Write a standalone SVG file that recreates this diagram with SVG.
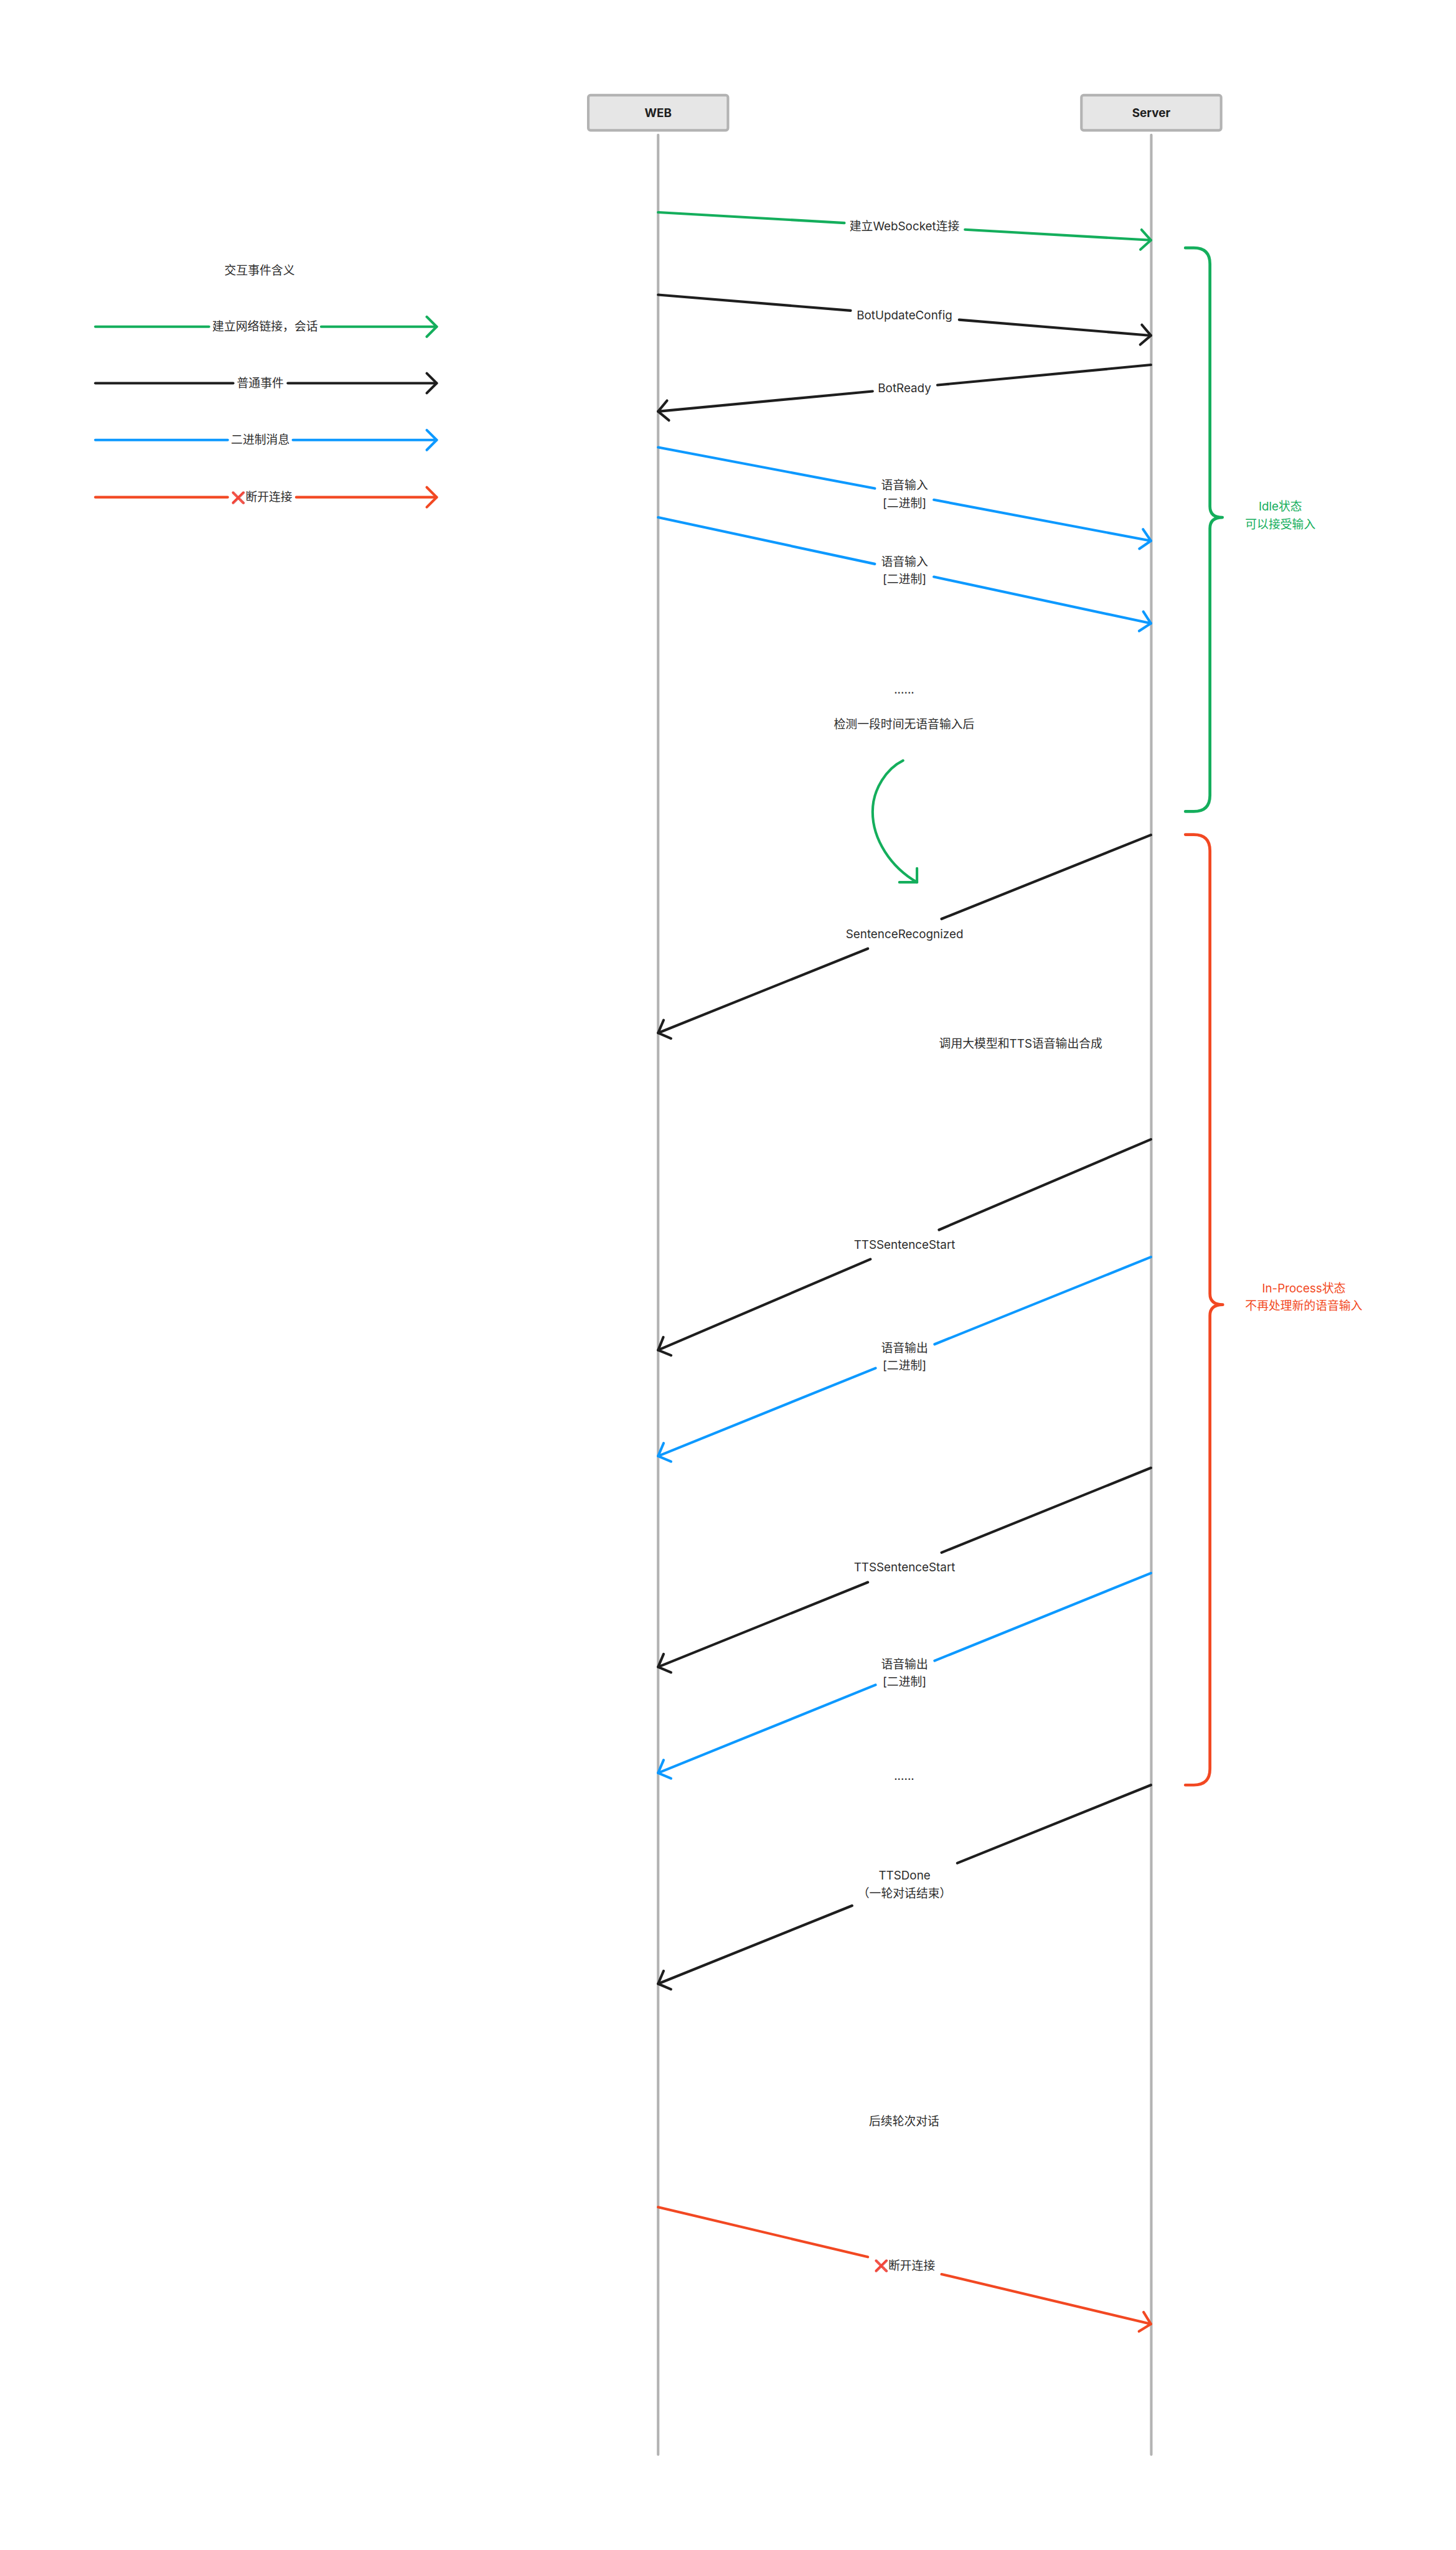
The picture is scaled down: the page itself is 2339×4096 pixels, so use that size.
<svg xmlns="http://www.w3.org/2000/svg" width="2339" height="4096" viewBox="0 0 2339 4096">
<style>
text{font-family:Inter,"Noto Sans","Noto Sans CJK SC",sans-serif;font-size:32px;fill:#2c2c2c;text-anchor:middle;dominant-baseline:central}
.node rect{fill:#e6e6e6;stroke:#b3b3b3;stroke-width:7}
.node text{font-weight:700;fill:#1e1e1e}
.life{stroke:#b3b3b3;stroke-width:7;stroke-linecap:round;fill:none}
.c{fill:none;stroke-width:7;stroke-linecap:round;stroke-linejoin:round}
.g{stroke:#14ae5c}.k{stroke:#1e1e1e}.b{stroke:#0d99ff}.r{stroke:#f24822}
.brace{fill:none;stroke-width:8;stroke-linecap:round;stroke-linejoin:round}
</style>
<defs>
<marker id="ag" markerUnits="userSpaceOnUse" markerWidth="80" markerHeight="80" viewBox="-40 -40 80 80" refX="0" refY="0" orient="auto" overflow="visible"><path d="M-27,-27 L0,0 L-27,27" fill="none" stroke="#14ae5c" stroke-width="7" stroke-linecap="round" stroke-linejoin="round"/></marker>
<marker id="ak" markerUnits="userSpaceOnUse" markerWidth="80" markerHeight="80" viewBox="-40 -40 80 80" refX="0" refY="0" orient="auto" overflow="visible"><path d="M-27,-27 L0,0 L-27,27" fill="none" stroke="#1e1e1e" stroke-width="7" stroke-linecap="round" stroke-linejoin="round"/></marker>
<marker id="ab" markerUnits="userSpaceOnUse" markerWidth="80" markerHeight="80" viewBox="-40 -40 80 80" refX="0" refY="0" orient="auto" overflow="visible"><path d="M-27,-27 L0,0 L-27,27" fill="none" stroke="#0d99ff" stroke-width="7" stroke-linecap="round" stroke-linejoin="round"/></marker>
<marker id="ar" markerUnits="userSpaceOnUse" markerWidth="80" markerHeight="80" viewBox="-40 -40 80 80" refX="0" refY="0" orient="auto" overflow="visible"><path d="M-27,-27 L0,0 L-27,27" fill="none" stroke="#f24822" stroke-width="7" stroke-linecap="round" stroke-linejoin="round"/></marker>
</defs>
<rect x="0" y="0" width="2339" height="4096" fill="#ffffff"/>
<g transform="scale(0.589)">
  <!-- legend -->
  <g id="legend">
    <text x="708" y="737">交互事件含义</text>
    <path class="c g" d="M260,891 L570,891"/>
    <path class="c g" d="M876,891 L1191,891" marker-end="url(#ag)"/>
    <text x="723" y="891">建立网络链接，会话</text>
    <path class="c k" d="M260,1045 L636,1045"/>
    <path class="c k" d="M785,1045 L1191,1045" marker-end="url(#ak)"/>
    <text x="710" y="1045">普通事件</text>
    <path class="c b" d="M260,1200 L621,1200"/>
    <path class="c b" d="M799,1200 L1191,1200" marker-end="url(#ab)"/>
    <text x="710" y="1200">二进制消息</text>
    <path class="c r" d="M260,1356 L621,1356"/>
    <path class="c r" d="M808,1356 L1191,1356" marker-end="url(#ar)"/>
    <text x="714" y="1356"><tspan fill="#e5393b">❌</tspan>断开连接</text>
  </g>

  <!-- nodes -->
  <g id="node-web" class="node">
    <rect x="1604.5" y="259.5" width="381" height="96" rx="6"/>
    <text x="1795" y="308">WEB</text>
    <path class="life" d="M1795,368 L1795,6694"/>
  </g>
  <g id="node-server" class="node">
    <rect x="2949.5" y="259.5" width="381" height="96" rx="6"/>
    <text x="3140" y="308">Server</text>
    <path class="life" d="M3140,368 L3140,6694"/>
  </g>

  <!-- connectors -->
  <g id="connectors">
    <g id="m1">
      <path class="c g" d="M1795,579 L2303,608"/>
      <path class="c g" d="M2632,626 L3139,655" marker-end="url(#ag)"/>
      <text x="2467" y="617">建立WebSocket连接</text>
    </g>
    <g id="m2">
      <path class="c k" d="M1795,804 L2320,847"/>
      <path class="c k" d="M2616,872 L3139,915" marker-end="url(#ak)"/>
      <text x="2467" y="860">BotUpdateConfig</text>
    </g>
    <g id="m3">
      <path class="c k" d="M3139,995 L2557,1050"/>
      <path class="c k" d="M2380,1067 L1795,1122" marker-end="url(#ak)"/>
      <text x="2467" y="1059">BotReady</text>
    </g>
    <g id="m4">
      <path class="c b" d="M1795,1220 L2386,1332"/>
      <path class="c b" d="M2547,1363 L3139,1475" marker-end="url(#ab)"/>
      <text x="2467" y="1324">语音输入</text>
      <text x="2467" y="1372">[二进制]</text>
    </g>
    <g id="m5">
      <path class="c b" d="M1795,1411 L2386,1538"/>
      <path class="c b" d="M2547,1573 L3139,1700" marker-end="url(#ab)"/>
      <text x="2467" y="1532">语音输入</text>
      <text x="2467" y="1580">[二进制]</text>
    </g>
    <g id="m6">
      <path class="c k" d="M3139,2277 L2568,2506"/>
      <path class="c k" d="M2367,2587 L1795,2817" marker-end="url(#ak)"/>
      <text x="2467" y="2547">SentenceRecognized</text>
    </g>
    <g id="m7">
      <path class="c k" d="M3139,3107 L2561,3354"/>
      <path class="c k" d="M2374,3434 L1795,3682" marker-end="url(#ak)"/>
      <text x="2467" y="3395">TTSSentenceStart</text>
    </g>
    <g id="m8">
      <path class="c b" d="M3139,3428 L2549,3666"/>
      <path class="c b" d="M2388,3731 L1795,3971" marker-end="url(#ab)"/>
      <text x="2467" y="3676">语音输出</text>
      <text x="2467" y="3724">[二进制]</text>
    </g>
    <g id="m9">
      <path class="c k" d="M3139,4003 L2568,4234"/>
      <path class="c k" d="M2367,4315 L1795,4546" marker-end="url(#ak)"/>
      <text x="2467" y="4275">TTSSentenceStart</text>
    </g>
    <g id="m10">
      <path class="c b" d="M3139,4290 L2549,4529"/>
      <path class="c b" d="M2388,4595 L1795,4835" marker-end="url(#ab)"/>
      <text x="2467" y="4539">语音输出</text>
      <text x="2467" y="4587">[二进制]</text>
    </g>
    <g id="m11">
      <path class="c k" d="M3139,4868 L2611,5081"/>
      <path class="c k" d="M2324,5197 L1795,5410" marker-end="url(#ak)"/>
      <text x="2467" y="5115">TTSDone</text>
      <text x="2467" y="5163">（一轮对话结束）</text>
    </g>
    <g id="m12">
      <path class="c r" d="M1795,6019 L2367,6155"/>
      <path class="c r" d="M2568,6202 L3139,6338" marker-end="url(#ar)"/>
      <text x="2467" y="6179"><tspan fill="#e5393b">❌</tspan>断开连接</text>
    </g>
    <g id="curve">
      <path class="c g" d="M2463,2074 C2420,2095 2380,2150 2380,2214 C2380,2290 2430,2365 2501,2406"/>
      <path class="c g" d="M2501,2368 L2501,2406 L2453,2406"/>
    </g>
  </g>

  <!-- notes -->
  <g id="notes">
    <text x="2466" y="1880">......</text>
    <text x="2466" y="1976">检测一段时间无语音输入后</text>
    <text x="2784" y="2846">调用大模型和TTS语音输出合成</text>
    <text x="2466" y="4843">......</text>
    <text x="2466" y="5785">后续轮次对话</text>
  </g>

  <!-- state braces -->
  <g id="idle-state">
    <path class="brace" stroke="#14ae5c" d="M3233,676 L3256,676 Q3300,676 3300,720 L3300,1381 Q3300,1411 3334,1411 Q3300,1411 3300,1441 L3300,2169 Q3300,2213 3256,2213 L3233,2213"/>
    <text x="3492" y="1381" style="fill:#14ae5c">Idle状态</text>
    <text x="3492" y="1430" style="fill:#14ae5c">可以接受输入</text>
  </g>
  <g id="inprocess-state">
    <path class="brace" stroke="#f24822" d="M3233,2276 L3256,2276 Q3300,2276 3300,2320 L3300,3528 Q3300,3558 3335,3558 Q3300,3558 3300,3588 L3300,4824 Q3300,4868 3256,4868 L3233,4868"/>
    <text x="3556" y="3513" style="fill:#f24822">In-Process状态</text>
    <text x="3556" y="3561" style="fill:#f24822">不再处理新的语音输入</text>
  </g>
</g>
</svg>
